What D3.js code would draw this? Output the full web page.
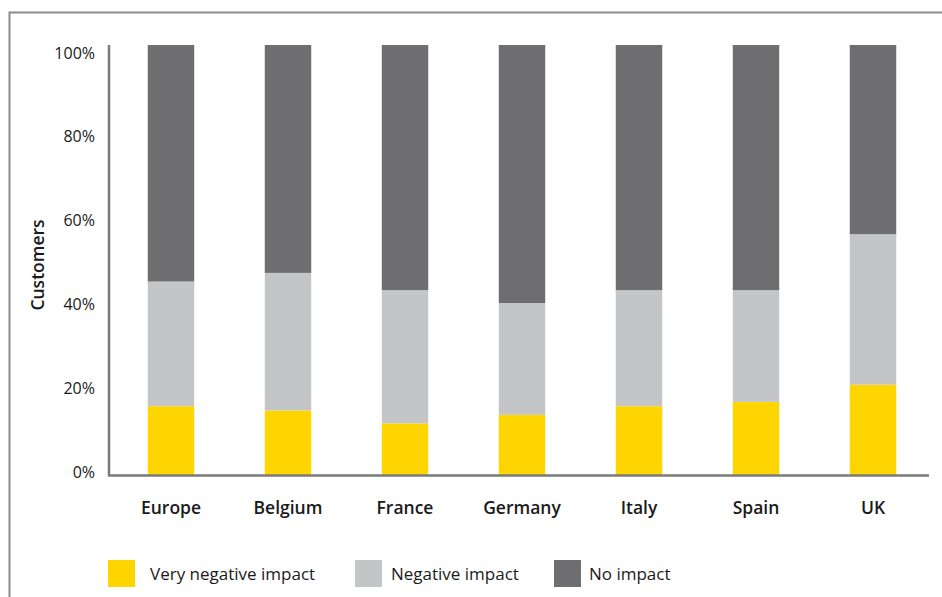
<!DOCTYPE html>
<html>
<head>
<meta charset="utf-8">
<script src="https://cdn.jsdelivr.net/npm/d3@7"></script>
<style>
  html, body { margin: 0; padding: 0; background: #fff; }
  svg { display: block; }
  text { font-family: "Open Sans", Lato, sans-serif; fill: #1a1a1a; }
</style>
</head>
<body>
<svg id="chart" width="942" height="597"></svg>
<script>
const categories = ["Europe", "Belgium", "France", "Germany", "Italy", "Spain", "UK"];
const seriesNames = ["Very negative impact", "Negative impact", "No impact"];
const veryNegative = [16, 15, 12, 14, 16, 17, 21];
const negative     = [29, 32, 31, 26, 27, 26, 35];
const noImpact     = [55, 53, 57, 60, 57, 57, 44];
const yTicks = [0, 20, 40, 60, 80, 100];
const tickLabels = ["0%", "20%", "40%", "60%", "80%", "100%"];
const colors = ["#FFD500", "#C4C5C7", "#6E6E70"];

const svg = d3.select("#chart");

// outer frame (left and top visible)
svg.append("rect")
  .attr("x", 9.5).attr("y", 12.5)
  .attr("width", 1000).attr("height", 1000)
  .attr("fill", "none").attr("stroke", "#8c8c8c").attr("stroke-width", 2);

const x = d3.scaleBand()
  .domain(categories)
  .range([112.5, 931.5])
  .paddingInner(0.603)
  .paddingOuter(0.3015);

const y = d3.scaleLinear().domain([0, 100]).range([475, 45]);
// tick label placement scale (labels sit slightly inside the plotted range)
const yLabel = d3.scaleLinear().domain([0, 100]).range([472, 53]);

const table = categories.map((c, i) => ({
  cat: c,
  [seriesNames[0]]: veryNegative[i],
  [seriesNames[1]]: negative[i],
  [seriesNames[2]]: noImpact[i]
}));
const stacked = d3.stack().keys(seriesNames)(table);

svg.append("g").selectAll("g")
  .data(stacked)
  .join("g")
  .attr("fill", (d, i) => colors[i])
  .selectAll("rect")
  .data(d => d)
  .join("rect")
  .attr("x", d => x(d.data.cat))
  .attr("width", x.bandwidth())
  .attr("y", d => y(d[1]))
  .attr("height", d => y(d[0]) - y(d[1]));

// y axis line
svg.append("line")
  .attr("x1", 109).attr("x2", 109)
  .attr("y1", y(100)).attr("y2", y(0) + 1)
  .attr("stroke", "#7a7a7a").attr("stroke-width", 2.5);
// x axis line
svg.append("line")
  .attr("x1", 108).attr("x2", 929)
  .attr("y1", 475.5).attr("y2", 475.5)
  .attr("stroke", "#7a7a7a").attr("stroke-width", 2.5);

// y tick labels
svg.append("g").selectAll("text")
  .data(yTicks)
  .join("text")
  .attr("x", 95)
  .attr("y", d => yLabel(d))
  .attr("dy", "0.35em")
  .attr("text-anchor", "end")
  .attr("font-size", 16)
  .text((d, i) => tickLabels[i]);

// category labels
svg.append("g").selectAll("text")
  .data(categories)
  .join("text")
  .attr("x", d => x(d) + x.bandwidth() / 2)
  .attr("y", 508)
  .attr("dy", "0.35em")
  .attr("text-anchor", "middle")
  .attr("font-size", 17.5)
  .attr("font-weight", 600)
  .text(d => d);

// y axis title
svg.append("text")
  .attr("transform", "translate(38,265) rotate(-90)")
  .attr("dy", "0.35em")
  .attr("text-anchor", "middle")
  .attr("font-size", 17.5)
  .attr("font-weight", 600)
  .text("Customers");

// legend
const legendX = [108, 355, 554];
const lg = svg.append("g").selectAll("g")
  .data(seriesNames)
  .join("g")
  .attr("transform", (d, i) => `translate(${legendX[i]},560)`);
lg.append("rect")
  .attr("width", 27).attr("height", 27)
  .attr("fill", (d, i) => colors[i]);
lg.append("text")
  .attr("x", (d, i) => [42, 36, 35][i])
  .attr("y", 14)
  .attr("dy", "0.35em")
  .attr("font-size", 17)
  .text(d => d);
</script>
</body>
</html>
